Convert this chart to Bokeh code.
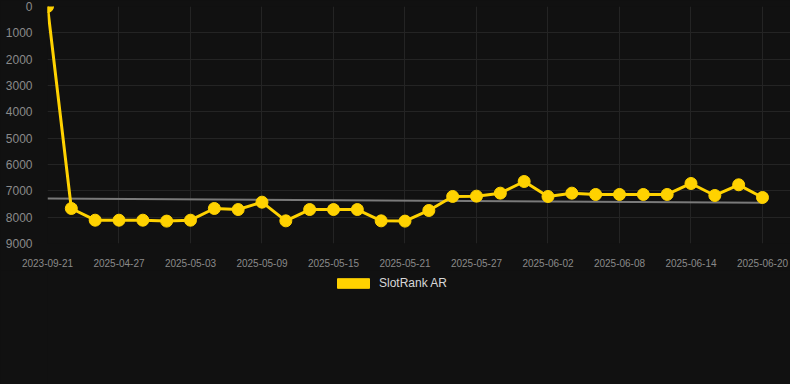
from bokeh.plotting import figure
from bokeh.layouts import column
from bokeh.models import Range1d, Legend, LegendItem, FixedTicker, ColumnDataSource
from bokeh.embed import file_html
from bokeh.resources import INLINE
import datetime as dt

# ---- data ----
dates = ["2023-09-21"] + [
    (dt.date(2025, 4, 23) + dt.timedelta(days=2 * i)).isoformat() for i in range(30)
]
ranks = [0, 7670, 8115, 8115, 8115, 8150, 8115, 7670, 7710, 7430,
         8140, 7710, 7710, 7710, 8140, 8150, 7746, 7214, 7202, 7088,
         6645, 7214, 7088, 7138, 7138, 7138, 7138, 6721, 7176, 6771, 7252]
trend_start = 7290
trend_end = 7455
y_ticks = [0, 1000, 2000, 3000, 4000, 5000, 6000, 7000, 8000, 9000]
label_every = 3
series_name = "SlotRank AR"

BG = "#111111"
GOLD = "#FFD200"
GRID = "#242424"
TXT = "#8a8a8a"
FONT = "Liberation Sans"
NAN = float("nan")

xs = list(range(len(dates)))
n = len(dates)

p = figure(width=790, height=270, output_backend="svg", toolbar_location=None,
           x_range=Range1d(0, (n - 1) + 28 / 23.83), y_range=Range1d(9000, 0),
           min_border_left=47, min_border_right=0, min_border_top=6, min_border_bottom=27)
p.background_fill_color = BG
p.border_fill_color = BG
p.outline_line_color = None

# trend line
p.line([0, n - 1], [trend_start, trend_end], line_color="#7a7a7a", line_width=2)

src = ColumnDataSource(dict(x=xs, y=ranks))
p.line("x", "y", source=src, line_color=GOLD, line_width=3)
p.scatter("x", "y", source=src, size=12, fill_color=GOLD, line_color=GOLD)

# axes
xt = xs[::label_every]
p.xaxis.ticker = FixedTicker(ticks=xt)
p.xaxis.major_label_overrides = {i: dates[i] for i in xt}
p.yaxis.ticker = FixedTicker(ticks=y_ticks)
for ax in (p.xaxis[0], p.yaxis[0]):
    ax.axis_line_color = None
    ax.major_tick_line_color = None
    ax.minor_tick_line_color = None
    ax.major_label_text_color = TXT
    ax.major_label_text_font = FONT
    ax.major_label_standoff = 9
p.xaxis.major_label_text_font_size = "10px"
p.yaxis.major_label_text_font_size = "12px"

p.xgrid.ticker = FixedTicker(ticks=xt)
p.ygrid.ticker = FixedTicker(ticks=y_ticks)
p.grid.grid_line_color = GRID
p.grid.grid_line_width = 1

# legend strip below the chart
lg = figure(width=790, height=114, output_backend="svg", toolbar_location=None,
            x_range=Range1d(0, 743), y_range=Range1d(0, 114),
            min_border_left=47, min_border_right=0, min_border_top=0, min_border_bottom=0,
            x_axis_type=None, y_axis_type=None)
lg.background_fill_color = BG
lg.border_fill_color = BG
lg.outline_line_color = None
lg.grid.visible = False
sw = lg.quad(left=[NAN], right=[NAN], top=[NAN], bottom=[NAN],
             fill_color=GOLD, line_color=GOLD)
legend = Legend(items=[LegendItem(label=series_name, renderers=[sw])],
                location=(286, 94), orientation="horizontal",
                background_fill_alpha=0, border_line_color=None,
                label_text_color="#d8d8d8", label_text_font=FONT,
                label_text_font_size="12px", glyph_width=40, glyph_height=12,
                label_standoff=6, padding=0, margin=0, label_height=12)
lg.add_layout(legend, "center")

layout = column(p, lg, spacing=0)
html = file_html(layout, INLINE)
html = html.replace("<body", '<body style="margin:0;background:%s"' % BG, 1)
html = html.replace("<html", '<html style="background:%s"' % BG, 1)
open("out.html", "w").write(html)
